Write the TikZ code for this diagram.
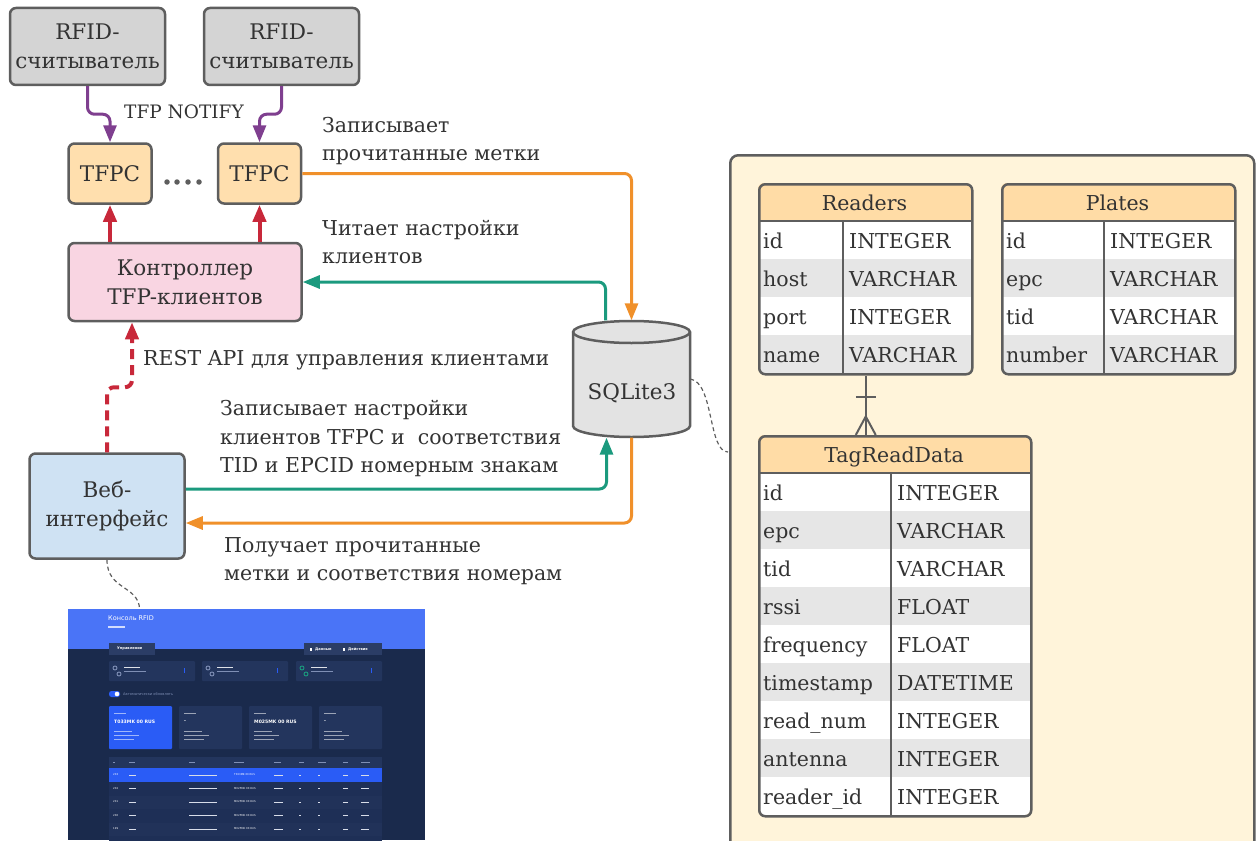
\documentclass[tikz,border=0pt]{standalone}
\usepackage{fontspec}
\setmainfont{DejaVu Serif}
\newfontfamily\uisans{DejaVu Sans}
\usetikzlibrary{arrows.meta}

\definecolor{textc}{HTML}{333333}
\definecolor{bordc}{HTML}{5E5E5E}
\definecolor{rfidfill}{HTML}{D4D4D4}
\definecolor{tfpcfill}{HTML}{FFDFAE}
\definecolor{ctrlfill}{HTML}{F9D5E2}
\definecolor{webfill}{HTML}{CFE2F3}
\definecolor{dbfill}{HTML}{E3E3E3}
\definecolor{panelfill}{HTML}{FFF4DA}
\definecolor{hdrfill}{HTML}{FFDCA6}
\definecolor{rowgray}{HTML}{E6E6E6}
\definecolor{cpurple}{HTML}{7F3F8F}
\definecolor{cred}{HTML}{C8283A}
\definecolor{corange}{HTML}{F0902A}
\definecolor{cteal}{HTML}{1B9A7E}
\definecolor{uiblue}{HTML}{4A74F7}
\definecolor{uinavy}{HTML}{1A2A4C}
\definecolor{uicard}{HTML}{23355D}
\definecolor{uibtn}{HTML}{2B3D66}
\definecolor{uihl}{HTML}{2A5CF6}
\definecolor{uirow}{HTML}{1E2F56}
\definecolor{uirowb}{HTML}{213259}
\definecolor{uibar}{HTML}{7F8FB5}

\newcommand\mainsz{\fontsize{20.5}{28.5}\selectfont}
\newcommand\boxsz{\fontsize{21.5}{29}\selectfont}
\newcommand\uifont[1]{\uisans\fontsize{#1}{#1}\selectfont}

% entity table: name, x0, y0, width, divider offset, title, rows count, rows
\newcommand\ertable[8]{%
  \pgfmathsetmacro\tabh{38*(#7+1)}
  \begin{scope}
    \clip[rounded corners=6pt] (#2,#3) rectangle ++(#4,\tabh);
    \fill[hdrfill] (#2,#3) rectangle ++(#4,38);
    \foreach \fname/\ftype [count=\i] in {#8} {
      \pgfmathsetmacro\rowy{#3+38*\i}
      \ifodd\i \def\rowc{white}\else\def\rowc{rowgray}\fi
      \fill[\rowc] (#2,\rowy) rectangle ++(#4,38);
      \node[cell] (#1-n\i) at (#2+5,\rowy+27) {\fname};
      \node[cell] (#1-t\i) at (#2+#5+6,\rowy+27) {\ftype};
    }
  \end{scope}
  \node[draw=bordc, line width=2.5pt, rounded corners=6pt, inner sep=0pt,
        minimum width=#4, minimum height=\tabh, anchor=north west] (#1) at (#2,#3) {};
  \node[font=\mainsz, text=textc, inner sep=0pt, anchor=base] (#1-title) at (#2+#4/2,#3+27) {#6};
  \draw[bordc, line width=2.5pt] (#2,#3+38) -- ++(#4,0);
  \draw[bordc, line width=2.5pt] (#2+#5,#3+38) -- (#2+#5,#3+\tabh);
}

\begin{document}
\begin{tikzpicture}[x=1pt,y=-1pt,
  box/.style={draw=bordc, line width=2.5pt, rounded corners=6pt, align=center,
              font=\boxsz, text=textc, inner sep=0pt},
  lbl/.style={font=\mainsz, text=textc, align=left, inner sep=0pt, anchor=north west},
  cell/.style={font=\mainsz, text=textc, inner sep=0pt, anchor=base west},
  conn/.style={line width=3pt, rounded corners=7pt, -{Triangle[length=17pt,width=13pt]}},
  parr/.style={conn, cpurple},
  rarr/.style={conn, cred, line width=4pt},
  oarr/.style={conn, corange},
  tarr/.style={conn, cteal},
  rdash/.style={conn, cred, line width=4pt, dash pattern=on 10pt off 6pt},
  link/.style={bordc, line width=1.2pt, dash pattern=on 4pt off 3pt},
  dotn/.style={circle, fill=bordc, inner sep=0pt, minimum size=5.5pt},
  uitxt/.style={text=white, inner sep=0pt, anchor=west, font=\uifont{3.6}},
]
\useasboundingbox (0,0) rectangle (1257,840);

% ---------- schema panel ----------
\node[draw=bordc, fill=panelfill, line width=2.5pt, rounded corners=8pt, inner sep=0pt,
      minimum width=524, minimum height=720, anchor=north west] (panel) at (729,154) {};

\ertable{readers}{758}{183}{213}{85}{Readers}{4}{id/INTEGER,host/VARCHAR,port/INTEGER,name/VARCHAR}
\ertable{plates}{1001}{183}{233}{103}{Plates}{4}{id/INTEGER,epc/VARCHAR,tid/VARCHAR,number/VARCHAR}
\ertable{tag}{758}{435}{272}{133}{TagReadData}{9}{id/INTEGER,epc/VARCHAR,tid/VARCHAR,rssi/FLOAT,frequency/FLOAT,timestamp/DATETIME,read\_num/INTEGER,antenna/INTEGER,reader\_id/INTEGER}

% one reader -- many tag reads
\draw[bordc, line width=2pt] (readers.south) -- (readers.south |- tag.north);
\draw[bordc, line width=2pt] ([xshift=-10pt,yshift=-21pt]readers.south) -- ++(20,0);
\draw[bordc, line width=2pt] ([xshift=-10pt]readers.south |- tag.north) -- ([yshift=-41pt]readers.south)
      -- ([xshift=10pt]readers.south |- tag.north);

% ---------- system nodes ----------
\node[box, fill=rfidfill, minimum width=155, minimum height=77] (rfid1) at (87.5,46.5) {RFID-\\считыватель};
\node[box, fill=rfidfill, minimum width=155, minimum height=77] (rfid2) at (281.5,46.5) {RFID-\\считыватель};
\node[box, fill=tfpcfill, minimum width=83, minimum height=60] (tfpc1) at (110,173.5) {TFPC};
\node[box, fill=tfpcfill, minimum width=83, minimum height=60] (tfpc2) at (259.5,173.5) {TFPC};
\foreach \dx [count=\k] in {167,177,188,199} \node[dotn] (dot\k) at (\dx,182) {};
\node[box, fill=ctrlfill, minimum width=233, minimum height=78] (ctrl) at (185,282) {Контроллер\\TFP-клиентов};
\node[box, fill=webfill, minimum width=155, minimum height=105] (web) at (107,506) {Веб-\\интерфейс};

% database cylinder
\filldraw[fill=dbfill, draw=bordc, line width=2.5pt]
  (573,332) -- (573,426) arc[start angle=180, end angle=360, x radius=58.5pt, y radius=11pt]
  -- (690,332) arc[start angle=0, end angle=180, x radius=58.5pt, y radius=11pt] -- cycle;
\draw[bordc, line width=2.5pt] (573,332) arc[start angle=180, end angle=360, x radius=58.5pt, y radius=11pt];
\node[inner sep=0pt, minimum width=117, minimum height=117] (db) at (631.5,379) {};
\node[font=\boxsz, text=textc, inner sep=0pt] (dbtxt) at (632,393) {SQLite3};

% ---------- connectors ----------
\draw[parr] (rfid1.south) -- ++(0,28) -| (tfpc1.north);
\draw[parr] (rfid2.south) -- ++(0,28) -| (tfpc2.north);
\draw[rarr] (tfpc1.south |- ctrl.north) -- (tfpc1.south);
\draw[rarr] (tfpc2.south |- ctrl.north) -- (tfpc2.south);
\draw[oarr] (tfpc2.east) -| (db.north);
\draw[tarr] ([xshift=-26pt]db.north) |- (ctrl.east);
\draw[rdash] (web.north) -- ++(0,-65) -| ([xshift=-53pt]ctrl.south);
\draw[tarr] ([yshift=17pt]web.east) -| ([xshift=-25pt]db.south);
\draw[oarr] (db.south) |- ([yshift=-17pt]web.east);

\coordinate (pj) at (728,452);
\draw[link] (db.east) .. controls (714,382) and (708,452) .. (pj);

% ---------- labels ----------
\node[lbl, font=\fontsize{18.5}{24}\selectfont] (l1) at (124,105) {TFP NOTIFY};
\node[lbl] (l2) at (322,117) {Записывает\\прочитанные метки};
\node[lbl] (l3) at (322,220) {Читает настройки\\клиентов};
\node[lbl] (l4) at (143,350) {REST API для управления клиентами};
\node[lbl] (l5) at (220,400) {Записывает настройки\\клиентов TFPC и\ \ соответствия\\TID и EPCID номерным знакам};
\node[lbl] (l6) at (224,537) {Получает прочитанные\\метки и соответствия номерам};

% ---------- web console screenshot ----------
\node[inner sep=0pt, minimum width=357, minimum height=231, anchor=north west] (shot) at (68,609) {};
\draw[link] (web.south) .. controls (107,590) and (138,585) .. ([xshift=-107pt]shot.north);
\begin{scope}
  \clip (68,609) rectangle (425,840);
  \fill[uiblue] (68,609) rectangle (425,649);
  \fill[uinavy] (68,649) rectangle (425,840);
  \node[uitxt, font=\uifont{6.5}] (ui-title) at (108,618) {Консоль RFID};
  \fill[white!75!uiblue] (108,626) rectangle (125,627.5);
  % toolbar
  \fill[uibtn] (109,643) rectangle (155,655);
  \node[uitxt] (ui-b1) at (117,649) {\bfseries Управление};
  \fill[uibtn] (304,643) rectangle (382,655);
  \node[uitxt] (ui-b2) at (315,649) {\bfseries Данные};
  \node[uitxt] (ui-b3) at (348,649) {\bfseries Действия};
  \fill[white] (310,647.5) rectangle (312,650.5);
  \fill[white] (343,647.5) rectangle (345,650.5);
  % reader cards
  \foreach \cx/\ic [count=\k] in {109/uibar,202/uibar,296/cteal} {
    \fill[uicard, rounded corners=1pt] (\cx,661) rectangle ++(86,20);
    \draw[\ic, line width=0.9pt] (\cx+6,668) circle[radius=2pt] (\cx+10,674) circle[radius=2pt];
    \fill[white!85!uicard] (\cx+15,667) rectangle ++(16,1.4);
    \fill[uibar] (\cx+15,671) rectangle ++(22,1.2);
    \fill[uihl] (\cx+75,668) rectangle ++(1.2,5);
  }
  % auto refresh toggle
  \fill[uihl, rounded corners=2.5pt] (109,691) rectangle (120,697);
  \fill[white] (117,694) circle[radius=2.3pt];
  \node[uitxt, text=uibar] (ui-auto) at (123,694) {Автоматически обновлять};
  % antenna cards
  \foreach \cx/\cf [count=\k] in {109/uihl,179/uicard,249/uicard,319/uicard} {
    \fill[\cf, rounded corners=1pt] (\cx,706) rectangle ++(63,43);
    \fill[white!55!\cf] (\cx+5,713) rectangle ++(12,1);
    \fill[white!55!\cf] (\cx+5,731) rectangle ++(18,1);
    \fill[white!55!\cf] (\cx+5,735) rectangle ++(25,1);
    \fill[white!55!\cf] (\cx+5,739) rectangle ++(20,1);
  }
  \node[uitxt, font=\uifont{4.6}\bfseries] (ui-a1) at (114,722) {T033MK 00 RUS};
  \node[uitxt, font=\uifont{4.6}\bfseries] (ui-a2) at (184,722) {-};
  \node[uitxt, font=\uifont{4.6}\bfseries] (ui-a3) at (254,722) {M025MK 00 RUS};
  \node[uitxt, font=\uifont{4.6}\bfseries] (ui-a4) at (324,722) {-};
  % reads table
  \fill[uicard] (109,757) rectangle (382,768);
  \foreach \tx/\tw in {113/2,129/6,189/6,234/10,274/7,299/5,318/8,343/5,361/9}
    \fill[uibar] (\tx,762) rectangle ++(\tw,0.9);
  \fill[uihl] (109,768) rectangle (382,782);
  \foreach \ry/\rc in {782/uirow,795.5/uirowb,809/uirow,822.5/uirowb,836/uirow}
    \fill[\rc] (109,\ry) rectangle ++(273,13.5);
  \node[uitxt, font=\uifont{2.6}] (ui-r0) at (113,775) {203};
  \node[uitxt, font=\uifont{2.6}] (ui-p0) at (234,775) {T033MK 00 RUS};
  \foreach \ry/\rn [count=\k] in {788.5/202,802/201,815.5/200,829/199} {
    \node[uitxt, font=\uifont{2.6}] (ui-r\k) at (113,\ry) {\rn};
    \node[uitxt, font=\uifont{2.6}] (ui-p\k) at (234,\ry) {M025MK 00 RUS};
  }
  \foreach \ry in {775,788.5,802,815.5,829} {
    \foreach \tx/\tw in {129/7,189/28,274/9,299/1.5,318/1.5,343/5,361/8}
      \fill[white!70!uibar] (\tx,\ry-0.5) rectangle ++(\tw,1);
  }
\end{scope}
\end{tikzpicture}
\end{document}
